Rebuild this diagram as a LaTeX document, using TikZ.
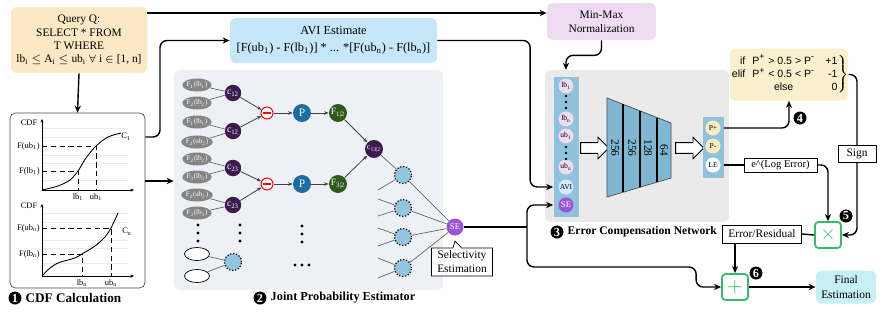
\documentclass[tikz,border=0pt]{standalone}
\usepackage{amsmath}
\usepackage{amssymb}
\usepackage{fontspec}
\setmainfont{Liberation Serif}
\newfontfamily\rulefont{Liberation Sans}
\usetikzlibrary{positioning,calc,shapes.geometric,shapes.arrows,shapes.callouts,arrows.meta}

\newcommand{\sbs}[1]{\textsubscript{#1}}

\definecolor{queryfill}{HTML}{FCE8C4}
\definecolor{avifill}{HTML}{C6E7FA}
\definecolor{normfill}{HTML}{EEDDF1}
\definecolor{jpefill}{HTML}{EDF1F6}
\definecolor{ecnfill}{HTML}{EAEAEA}
\definecolor{rulefill}{HTML}{FAF0CD}
\definecolor{finalfill}{HTML}{C6F0F4}
\definecolor{copulacol}{HTML}{3D1A4F}
\definecolor{probcol}{HTML}{1A6EA2}
\definecolor{condcol}{HTML}{2E5A1B}
\definecolor{secol}{HTML}{9C54D4}
\definecolor{cdfgray}{HTML}{858585}
\definecolor{nodeblue}{HTML}{93C5DE}
\definecolor{colblue}{HTML}{8FC2DC}
\definecolor{layerblue}{HTML}{7FB6D2}
\definecolor{inpink}{HTML}{F0DCEF}
\definecolor{inblue}{HTML}{D4ECFA}
\definecolor{outyellow}{HTML}{FBEBC1}
\definecolor{opgreen}{HTML}{2FBF68}

\begin{document}
\begin{tikzpicture}[x=0.02cm,y=-0.02cm]
    \tikzset{
        txt/.style={font=\fontsize{6.5}{7.5}\selectfont, align=center},
        panel/.style={rounded corners=3pt, inner sep=0pt, txt},
        plain/.style={draw, fill=white, inner sep=0pt, txt},
        flow/.style={thick, -{Stealth[length=4pt,width=3.5pt]}, rounded corners=4pt},
        wire/.style={thick, rounded corners=4pt},
        edge/.style={black!60, line width=0.4pt},
        dedge/.style={black!75, line width=0.45pt, -{Stealth[length=2.5pt,width=2pt]}},
        plotlbl/.style={font=\fontsize{4.8}{5}\selectfont, inner sep=0.5pt},
        marg/.style={ellipse, fill=cdfgray, inner sep=0pt, minimum width=0.5cm, minimum height=0.26cm, text=white, font=\fontsize{4}{4}\selectfont},
        hollow/.style={ellipse, draw, fill=white, inner sep=0pt, minimum width=0.5cm, minimum height=0.26cm},
        copula/.style={circle, fill=copulacol, inner sep=0pt, minimum size=0.33cm, text=white, font=\fontsize{5.5}{6}\selectfont},
        minus/.style={circle, draw=red, line width=0.6pt, fill=white, text=red, inner sep=0pt, minimum size=0.24cm},
        prob/.style={circle, fill=probcol, inner sep=0pt, minimum size=0.36cm, text=white, font=\fontsize{6.5}{7}\selectfont},
        cond/.style={circle, fill=condcol, inner sep=0pt, minimum size=0.36cm, text=white, font=\fontsize{5.5}{6}\selectfont},
        hidden/.style={circle, draw=black, densely dotted, line width=0.7pt, fill=nodeblue, inner sep=0pt, minimum size=0.34cm},
        sel/.style={circle, fill=secol, inner sep=0pt, minimum size=0.34cm, text=white, font=\fontsize{5}{5}\selectfont},
        incirc/.style={circle, fill=inpink, inner sep=0pt, minimum size=0.3cm, font=\fontsize{4.3}{4.5}\selectfont},
        bigarrow/.style={single arrow, draw, fill=white, line width=0.5pt, inner xsep=0pt, inner ysep=2.8pt, single arrow head extend=3pt, minimum height=0.56cm},
        opbox/.style={draw=opgreen, line width=1pt, rounded corners=2pt, fill=white, minimum size=0.52cm, inner sep=0pt, text=opgreen},
        numdot/.style={circle, fill=black, text=white, inner sep=0pt, minimum size=0.26cm, font=\bfseries\fontsize{7}{7}\selectfont},
        seclbl/.style={font=\bfseries\fontsize{7}{8}\selectfont, inner sep=0pt}
    }
    \useasboundingbox (0,0) rectangle (887,312);

    % query and cdf panel
    \node[panel, fill=queryfill, minimum width=2.72cm, minimum height=1.32cm] (query) at (79,40)
        {Query Q:\\SELECT * FROM\\T WHERE\\lb\sbs{i} $\le$ A\sbs{i} $\le$ ub\sbs{i} $\forall$ i $\in$ [1, n]};
    \node[panel, draw=black!70, fill=white, minimum width=2.7cm, minimum height=3.5cm] (cdf) at (77.5,200.5) {};
    \node[numdot] (n1) at (15,298) {1};
    \node[seclbl, font=\bfseries\fontsize{7.5}{8}\selectfont, right=2pt of n1] (l1) {CDF Calculation};

    \draw[black!8, line width=0.3pt] (42,128) -- (128,128) (42,137) -- (128,137) (42,155) -- (128,155)
        (42,163) -- (128,163) (42,180) -- (128,180);
    \draw[line width=0.4pt, -{Stealth[length=2pt,width=1.8pt]}] (42,190) -- (42,119);
    \draw[line width=0.4pt, -{Stealth[length=2pt,width=1.8pt]}] (42,190) -- (134,190);
    \draw[densely dashed, line width=0.3pt] (42,146) -| (96,190);
    \draw[densely dashed, line width=0.3pt] (42,171) -| (78,190);
    \draw[line width=0.5pt] plot[smooth] coordinates {(42,190) (58,186) (70,180) (78,171) (86,158) (96,146) (108,137) (121,133)};
    \node[plotlbl] (cdfa) at (29,123) {CDF};
    \node[plotlbl, anchor=east] (fub1) at (41,146) {F(ub\sbs{1})};
    \node[plotlbl, anchor=east] (flb1) at (41,171) {F(lb\sbs{1})};
    \node[plotlbl, anchor=north] (lb1) at (78,192) {lb\sbs{1}};
    \node[plotlbl, anchor=north] (ub1) at (96,192) {ub\sbs{1}};
    \node[plotlbl] (c1) at (126,137) {C\sbs{1}};

    \draw[black!8, line width=0.3pt] (42,213) -- (128,213) (42,222) -- (128,222) (42,240) -- (128,240)
        (42,248) -- (128,248) (42,263) -- (128,263);
    \draw[line width=0.4pt, -{Stealth[length=2pt,width=1.8pt]}] (42,276) -- (42,204);
    \draw[line width=0.4pt, -{Stealth[length=2pt,width=1.8pt]}] (42,276) -- (134,276);
    \draw[densely dashed, line width=0.3pt] (42,228) -| (111,276);
    \draw[densely dashed, line width=0.3pt] (42,254) -| (82,276);
    \draw[line width=0.5pt] plot[smooth] coordinates {(42,276) (50,268) (58,263) (68,260) (76,257.5) (82,254) (95,246) (105,237) (111,228) (118,213)};
    \node[plotlbl] (cdfb) at (29,206) {CDF};
    \node[plotlbl, anchor=east] (fubn) at (41,228) {F(ub\sbs{n})};
    \node[plotlbl, anchor=east] (flbn) at (41,254) {F(lb\sbs{n})};
    \node[plotlbl, anchor=north] (lbn) at (82,278) {lb\sbs{n}};
    \node[plotlbl, anchor=north] (ubn) at (111,278) {ub\sbs{n}};
    \node[plotlbl] (cn) at (127,232) {C\sbs{n}};

    % avi and normalization
    \node[panel, fill=avifill, minimum width=4.14cm, minimum height=0.9cm, font=\fontsize{7}{9.5}\selectfont] (avi) at (333.5,40.5)
        {AVI Estimate\\{}[F(ub\sbs{1}) - F(lb\sbs{1})] * ... *[F(ub\sbs{n}) - F(lb\sbs{n})]};
    \node[panel, fill=normfill, minimum width=2.18cm, minimum height=0.74cm, font=\fontsize{6.5}{8}\selectfont] (minmax) at (601.5,21.5)
        {Min-Max\\Normalization};

    % joint probability estimator
    \node[panel, fill=jpefill, minimum width=5.38cm, minimum height=4.4cm] (jpe) at (308.5,180) {};
    \node[numdot] (n2) at (260,298) {2};
    \node[seclbl, right=2pt of n2] (l2) {Joint Probability Estimator};

    \node[marg] (e1) at (197,85) {F\sbs{1}(lb\sbs{1})};
    \node[marg] (e2) at (197,103) {F\sbs{2}(lb\sbs{2})};
    \node[marg] (e3) at (197,122) {F\sbs{1}(lb\sbs{1})};
    \node[marg] (e4) at (197,142) {F\sbs{2}(ub\sbs{2})};
    \node[marg] (e5) at (197,159) {F\sbs{2}(lb\sbs{2})};
    \node[marg] (e6) at (197,177) {F\sbs{3}(lb\sbs{3})};
    \node[marg] (e7) at (197,195) {F\sbs{2}(ub\sbs{2})};
    \node[marg] (e8) at (197,213) {F\sbs{3}(lb\sbs{3})};
    \node[hollow] (e9) at (197,254) {};
    \node[hollow] (e10) at (197,276) {};

    \node[copula] (ca) at (233,93) {c\sbs{12}};
    \node[copula] (cb) at (233,131) {c\sbs{12}};
    \node[copula] (cc) at (233,168) {c\sbs{23}};
    \node[copula] (cd) at (233,205) {c\sbs{23}};
    \node[hidden] (ce) at (233,262) {};
    \draw[edge] (e1) -- (ca); \draw[edge] (e2) -- (ca);
    \draw[edge] (e3) -- (cb); \draw[edge] (e4) -- (cb);
    \draw[edge] (e5) -- (cc); \draw[edge] (e6) -- (cc);
    \draw[edge] (e7) -- (cd); \draw[edge] (e8) -- (cd);
    \draw[edge] (e9) -- (ce); \draw[edge] (e10) -- (ce);

    \node[minus] (m1) at (267,113) {\rule{4.5pt}{1.1pt}};
    \node[minus] (m2) at (267,184) {\rule{4.5pt}{1.1pt}};
    \node[prob] (p1) at (302,113) {P};
    \node[prob] (p2) at (302,184) {P};
    \node[cond] (f1) at (338,113) {F\sbs{1|2}};
    \node[cond] (f2) at (338,184) {F\sbs{3|2}};
    \node[copula, minimum size=0.36cm, font=\fontsize{4.6}{5}\selectfont] (c132) at (374,149) {c\sbs{13|2}};
    \draw[dedge] (ca) -- (m1); \draw[dedge] (cb) -- (m1);
    \draw[dedge] (cc) -- (m2); \draw[dedge] (cd) -- (m2);
    \draw[dedge] (m1) -- (p1); \draw[dedge] (p1) -- (f1);
    \draw[dedge] (m2) -- (p2); \draw[dedge] (p2) -- (f2);
    \draw[dedge] (f1) -- (c132); \draw[dedge] (f2) -- (c132);

    \fill (198,225) circle (0.9pt) (198,233) circle (0.9pt) (198,241) circle (0.9pt);
    \fill (240,225) circle (0.9pt) (240,233) circle (0.9pt) (240,241) circle (0.9pt);
    \fill (302,226) circle (0.9pt) (302,234) circle (0.9pt) (302,242) circle (0.9pt);
    \fill (295,265) circle (0.9pt) (302,265) circle (0.9pt) (309,265) circle (0.9pt);

    \node[hidden] (h1) at (403,175) {};
    \node[hidden] (h2) at (403,208) {};
    \node[hidden] (h3) at (403,237) {};
    \node[hidden] (h4) at (403,268) {};
    \coordinate (t1) at (378,190);
    \coordinate (t2) at (378,199);
    \coordinate (t3) at (378,216);
    \coordinate (t4) at (378,228);
    \coordinate (t5) at (378,246);
    \coordinate (t6) at (378,258);
    \coordinate (t7) at (378,278);
    \draw[edge] (c132) -- (h1); \draw[edge] (t1) -- (h1);
    \draw[edge] (t2) -- (h2); \draw[edge] (t3) -- (h2);
    \draw[edge] (t4) -- (h3); \draw[edge] (t5) -- (h3);
    \draw[edge] (t6) -- (h4); \draw[edge] (t7) -- (h4);

    \node[sel] (se) at (455,227) {SE};
    \draw[edge] (h1) -- (se); \draw[edge] (h2) -- (se);
    \draw[edge] (h3) -- (se); \draw[edge] (h4) -- (se);
    \node[rectangle callout, draw, fill=white, txt, font=\fontsize{6.5}{8}\selectfont, inner sep=0pt, minimum width=1.22cm, minimum height=0.56cm,
        callout absolute pointer={(455,241)}, callout pointer width=5pt] (selbl) at (462,262) {Selectivity\\Estimation};

    % error compensation network
    \node[panel, fill=ecnfill, minimum width=3.68cm, minimum height=3.04cm] (ecn) at (637,146) {};
    \node[numdot] (n3) at (557,232) {3};
    \node[seclbl, font=\bfseries\fontsize{6.6}{8}\selectfont, right=2pt of n3] (l3) {Error Compensation Network};

    \node[fill=colblue, inner sep=0pt, minimum width=0.5cm, minimum height=2.8cm] (incol) at (566,147) {};
    \node[incirc] (inlb1) at (566,86) {lb\sbs{1}};
    \node[incirc] (inlbn) at (566,119) {lb\sbs{n}};
    \node[incirc] (inub1) at (566,136) {ub\sbs{1}};
    \node[incirc] (inubn) at (566,167) {ub\sbs{n}};
    \node[incirc, fill=inblue] (inavi) at (566,187) {AVI};
    \node[incirc, fill=secol, text=white, font=\fontsize{5}{5}\selectfont] (inse) at (566,205) {SE};
    \fill (566,96) circle (0.8pt) (566,102) circle (0.8pt) (566,108) circle (0.8pt);
    \fill (566,147) circle (0.8pt) (566,153) circle (0.8pt) (566,159) circle (0.8pt);

    \node[bigarrow] (arr1) at (592,148) {};
    \fill[layerblue] (607,98) -- (671,123) -- (671,178) -- (607,197) -- cycle;
    \draw[black!70, line width=0.4pt] (607,98) -- (671,123) -- (671,178) -- (607,197) -- cycle;
    \draw[line width=1.2pt] (623,104.25) -- (623,192.25) (640,110.9) -- (640,187.2) (657,117.5) -- (657,182.2);
    \node[rotate=-90, txt] (layer1) at (615,148) {256};
    \node[rotate=-90, txt] (layer2) at (632,148) {256};
    \node[rotate=-90, txt] (layer3) at (648,148) {128};
    \node[rotate=-90, txt] (layer4) at (664,150) {64};
    \node[bigarrow] (arr2) at (687,148) {};

    \node[fill=colblue, inner sep=0pt, minimum width=0.42cm, minimum height=1.22cm] (outcol) at (713,147) {};
    \node[incirc, fill=outyellow] (pplus) at (713,128) {P+};
    \node[incirc, fill=outyellow] (pminus) at (713,146) {P-};
    \node[incirc, fill=white] (le) at (713,165) {LE};

    % output stage
    \node[panel, fill=rulefill, minimum width=2.32cm, minimum height=1.04cm, font=\rulefont\fontsize{6}{7.2}\selectfont] (rule) at (789,74.5)
        {$\left.\begin{tabular}{@{}r@{\hspace{4pt}}c@{\hspace{6pt}}r@{}}
        if & P\textsuperscript{+} > 0.5 > P\textsuperscript{-} & +1\\
        elif & P\textsuperscript{+} < 0.5 < P\textsuperscript{-} & -1\\
        & else & 0
        \end{tabular}\right\}$};
    \node[numdot] (n4) at (800,118) {4};
    \node[plain, minimum width=1.46cm, minimum height=0.28cm, font=\fontsize{6}{7}\selectfont] (expbox) at (780.5,165) {e\textasciicircum(Log Error)};
    \node[plain, minimum width=0.76cm, minimum height=0.34cm] (sign) at (857,154) {Sign};
    \node[opbox, font=\fontsize{11}{11}\selectfont] (times) at (828,235) {$\times$};
    \node[numdot] (n5) at (846,216) {5};
    \node[plain, minimum width=1.58cm, minimum height=0.36cm] (errres) at (762,234) {Error/Residual};
    \node[opbox, font=\fontsize{13}{13}\selectfont] (plus) at (735,287) {$+$};
    \node[numdot] (n6) at (756,273) {6};
    \node[panel, fill=finalfill, minimum width=1.2cm, minimum height=0.66cm, font=\fontsize{6.5}{8.5}\selectfont] (final) at (846,287) {Final\\Estimation};

    % connectors
    \coordinate (toprow) at (0,13);
    \coordinate (split) at (527,227);
    \draw[flow] (query.south) -- (cdf.north);
    \draw[flow] (query.east |- toprow) -- (minmax.west |- toprow);
    \draw[flow] (cdf.east |- 0,137) -- (160,137) |- (avi.west);
    \draw[flow] (cdf.east |- 0,181) -- (jpe.west |- 0,181);
    \draw[flow] (avi.east) -| ($(incol.west |- inavi)+(-23,0)$) -- (incol.west |- inavi);
    \draw[flow] (minmax.south) -- ++(0,15) -| (incol.north |- ecn.north);
    \draw[wire] (se.east) -- (split);
    \draw[flow] (split) |- (incol.west |- inse);
    \draw[flow] (split) |- ($(plus.west)+(-25,-20)$) |- (plus.west);
    \draw[flow] (outcol.east |- pplus) -| (rule.south);
    \draw[wire] (outcol.east |- le) -- (expbox.west);
    \draw[flow] (expbox.east) -| (times.north);
    \draw[wire] (rule.east) -| (sign.north);
    \draw[flow] (sign.south) |- (times.east);
    \draw[wire] (times.west) -- (errres.east);
    \draw[flow] (errres.south -| plus.north) -- (plus.north);
    \draw[flow] (plus.east) -- (final.west);
\end{tikzpicture}
\end{document}
